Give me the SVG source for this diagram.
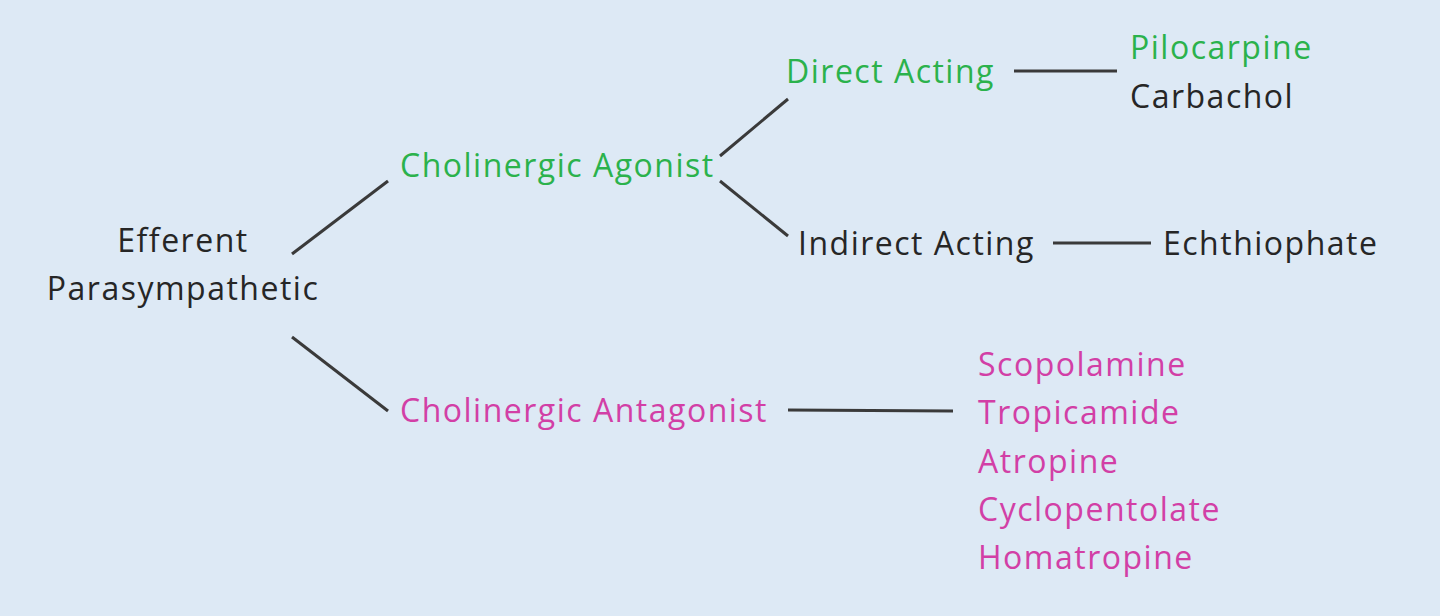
<svg xmlns="http://www.w3.org/2000/svg" width="1440" height="616" viewBox="0 0 1440 616">
<style>
text{font-family:"Open Sans","Liberation Sans",sans-serif;font-size:32px;letter-spacing:1.5px}
.k{fill:#262626}.g{fill:#2bb24c}.p{fill:#d23fa6}
.c line{stroke:#3a3a3a;stroke-width:3}
</style>
<rect width="1440" height="616" fill="#dde9f5"/>
<g class="c" id="connectors">
<line x1="292" y1="254" x2="388" y2="181"/>
<line x1="292" y1="337" x2="388" y2="411"/>
<line x1="720" y1="156" x2="788" y2="99"/>
<line x1="720" y1="181" x2="788" y2="236"/>
<line x1="1014" y1="71" x2="1117" y2="71"/>
<line x1="1053" y1="243" x2="1151" y2="243"/>
<line x1="788" y1="410" x2="953" y2="411"/>
</g>
<g id="root"><text class="k" x="183" y="252" text-anchor="middle">Efferent</text><text class="k" x="183" y="300" text-anchor="middle">Parasympathetic</text></g>
<g id="agonist"><text class="g" x="400" y="177">Cholinergic Agonist</text></g>
<g id="direct"><text class="g" x="786" y="83">Direct Acting</text></g>
<g id="direct-drugs"><text class="g" x="1130" y="59">Pilocarpine</text><text class="k" x="1130" y="108">Carbachol</text></g>
<g id="indirect"><text class="k" x="798" y="255">Indirect Acting</text></g>
<g id="indirect-drugs"><text class="k" x="1163" y="255">Echthiophate</text></g>
<g id="antagonist"><text class="p" x="400" y="422">Cholinergic Antagonist</text></g>
<g id="antagonist-drugs">
<text class="p" x="978" y="376">Scopolamine</text>
<text class="p" x="978" y="424">Tropicamide</text>
<text class="p" x="978" y="473">Atropine</text>
<text class="p" x="978" y="521">Cyclopentolate</text>
<text class="p" x="978" y="569">Homatropine</text>
</g>
</svg>
